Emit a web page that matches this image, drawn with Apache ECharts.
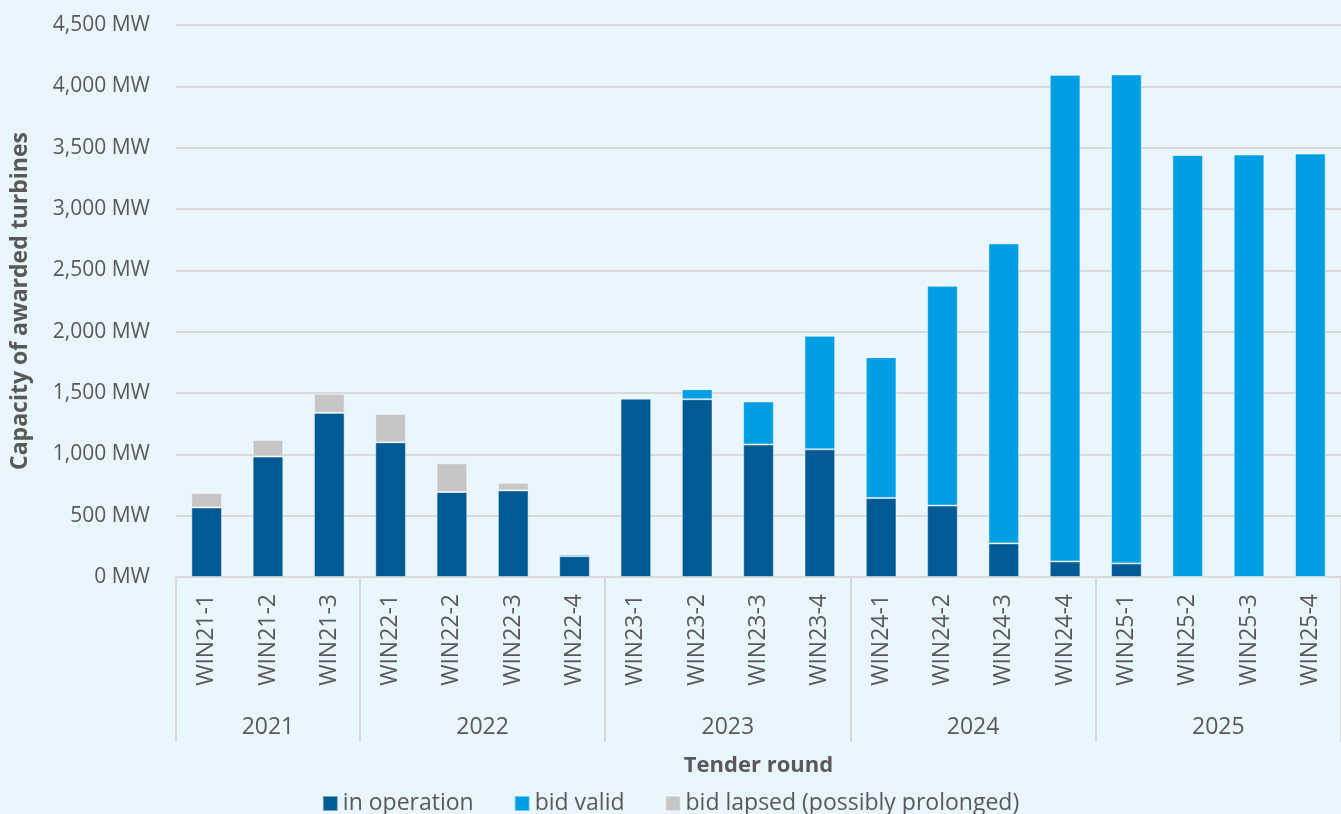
<!DOCTYPE html>
<html>
<head>
<meta charset="utf-8">
<script src="https://cdn.jsdelivr.net/npm/echarts@6/dist/echarts.min.js"></script>
<style>
  html, body { margin: 0; padding: 0; background: #EAF6FE; }
  #chart { width: 1341px; height: 814px; }
</style>
</head>
<body>
<div id="chart"></div>
<script>
// tender rounds and their year groups
const rounds = ['WIN21-1', 'WIN21-2', 'WIN21-3',
    'WIN22-1', 'WIN22-2', 'WIN22-3', 'WIN22-4',
    'WIN23-1', 'WIN23-2', 'WIN23-3', 'WIN23-4',
    'WIN24-1', 'WIN24-2', 'WIN24-3', 'WIN24-4',
    'WIN25-1', 'WIN25-2', 'WIN25-3', 'WIN25-4'];
const years = ['2021', '2022', '2023', '2024', '2025'];
const roundsPerYear = [3, 4, 4, 4, 4];

// MW per round
const inOperation = [567, 982, 1338, 1098, 693, 706, 170, 1453, 1449, 1080, 1041, 644, 582, 274, 127, 111, 0, 0, 0];
const bidValid = [0, 0, 0, 0, 0, 0, 16, 10, 82, 351, 926, 1148, 1793, 2446, 3967, 3986, 3441, 3444, 3452];
const bidLapsed = [118, 136, 155, 232, 234, 61, 0, 0, 0, 0, 0, 0, 0, 0, 0, 0, 0, 0, 0];

const yTicks = [0, 500, 1000, 1500, 2000, 2500, 3000, 3500, 4000, 4500];

// group boundaries and centers for the year row
const bounds = [0];
roundsPerYear.forEach(n => bounds.push(bounds[bounds.length - 1] + n));
const centers = roundsPerYear.map((n, i) => bounds[i] + n / 2);

const FONT = '"Open Sans", "Noto Sans", sans-serif';
const TXT = '#595959';
const LINE = '#D9D9D9';

const chart = echarts.init(document.getElementById('chart'));

const barSeries = (name, data, color) => ({
    name: name,
    type: 'bar',
    stack: 'total',
    data: data,
    barWidth: '50%',
    itemStyle: { color: color, borderColor: 'rgba(255,255,255,0.45)', borderWidth: 1 }
});

chart.setOption({
    backgroundColor: '#EAF6FE',
    textStyle: { fontFamily: FONT },
    animation: false,
    grid: { left: 176, right: 0, top: 25, bottom: 237, containLabel: false, outerBoundsMode: 'none' },
    legend: {
        top: 787,
        left: 'center',
        icon: 'rect',
        itemWidth: 15,
        itemHeight: 15,
        itemGap: 40,
        textStyle: { fontSize: 23, color: TXT, fontFamily: FONT }
    },
    xAxis: [{
        type: 'category',
        data: rounds,
        axisLine: { lineStyle: { color: LINE, width: 2 } },
        axisTick: { show: false },
        axisLabel: { rotate: 90, margin: 17, fontSize: 23, color: TXT, fontFamily: FONT }
    }, {
        type: 'value',
        position: 'bottom',
        min: 0,
        max: rounds.length,
        axisLine: { show: false },
        splitLine: { show: false },
        axisTick: {
            show: true,
            customValues: bounds,
            length: 165,
            lineStyle: { color: LINE, width: 2 }
        },
        axisLabel: {
            customValues: centers,
            margin: 139,
            fontSize: 23,
            color: TXT,
            fontFamily: FONT,
            formatter: v => years[centers.indexOf(v)] || ''
        },
        name: 'Tender round',
        nameLocation: 'middle',
        nameGap: 178,
        nameTextStyle: { fontSize: 22, fontWeight: 'bold', color: TXT, fontFamily: FONT }
    }],
    yAxis: {
        type: 'value',
        min: 0,
        max: yTicks[yTicks.length - 1],
        interval: 500,
        axisLine: { show: false },
        axisTick: { show: false },
        splitLine: { lineStyle: { color: LINE, width: 2 } },
        axisLabel: {
            margin: 26,
            fontSize: 21,
            color: TXT,
            fontFamily: FONT,
            formatter: v => v.toLocaleString('en-US') + ' MW'
        },
        name: 'Capacity of awarded turbines',
        nameLocation: 'middle',
        nameGap: 144,
        nameTextStyle: { fontSize: 23, fontWeight: 'bold', color: TXT, fontFamily: FONT }
    },
    series: [
        barSeries('in operation', inOperation, '#005A94'),
        barSeries('bid valid', bidValid, '#009FE3'),
        barSeries('bid lapsed (possibly prolonged)', bidLapsed, '#C6C6C6')
    ]
});
</script>
</body>
</html>
